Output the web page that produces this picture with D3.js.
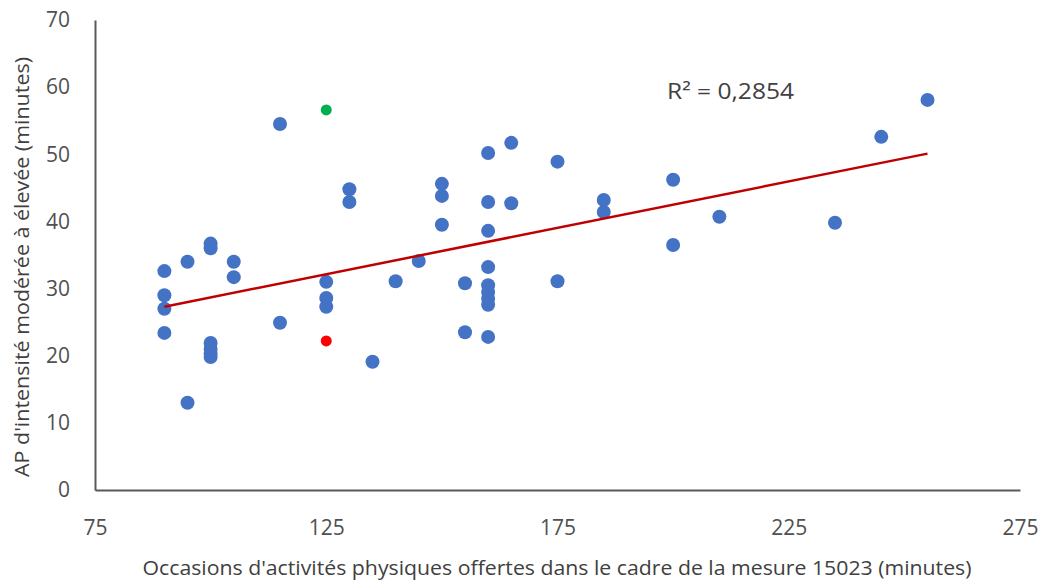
<!DOCTYPE html>
<html>
<head>
<meta charset="utf-8">
<script src="https://cdn.jsdelivr.net/npm/d3@7"></script>
<style>
  body { margin: 0; background: #fff; }
  text { font-family: "Open Sans", "Noto Sans", sans-serif; }
</style>
</head>
<body>
<script>
// data
var minutesOffered = [
  90, 90, 90, 90,
  95, 95,
  100, 100, 100, 100, 100, 100,
  105, 105,
  115, 115,
  125, 125, 125,
  130, 130,
  135, 140, 145,
  150, 150, 150,
  155, 155,
  160, 160, 160, 160, 160, 160, 160, 160, 160,
  165, 165,
  175, 175,
  185, 185,
  200, 200,
  210, 235, 245, 255
];
var minutesMVPA = [
  32.6, 29.0, 27.0, 23.4,
  34.0, 13.0,
  36.7, 36.0, 21.9, 21.0, 20.3, 19.8,
  34.0, 31.7,
  54.5, 24.9,
  31.0, 28.6, 27.3,
  44.8, 42.9,
  19.1, 31.1, 34.1,
  45.6, 43.8, 39.5,
  30.8, 23.5,
  50.2, 42.9, 38.6, 33.2, 30.5, 29.5, 28.5, 27.6, 22.8,
  51.7, 42.7,
  48.9, 31.1,
  43.2, 41.4,
  46.2, 36.5,
  40.7, 39.8, 52.6, 58.1
];
// the two highlighted points
var specialX = [125, 125];
var specialY = [56.6, 22.2];
var specialColors = ["#00b050", "#ff0000"];

// linear trend line ends
var trendX = [90, 255];
var trendY = [27.3, 50.1];
var r2Label = "R² = 0,2854";

var xTicks = [75, 125, 175, 225, 275];
var yTicks = [0, 10, 20, 30, 40, 50, 60, 70];

var svgWidth = 1044;
var svgHeight = 580;

var margin = { top: 20, right: 24, bottom: 90, left: 95 };
var width = svgWidth - margin.left - margin.right;
var height = svgHeight - margin.top - margin.bottom;

var svg = d3.select("body")
  .append("svg")
  .attr("width", svgWidth)
  .attr("height", svgHeight);

var chart = svg.append("g")
  .attr("transform", `translate(${margin.left}, ${margin.top})`);

var x = d3.scaleLinear().domain([75, 275]).range([0, width]);
var y = d3.scaleLinear().domain([0, 70]).range([height, 0]);

// axes, no tick marks
var xAxis = chart.append("g")
  .attr("transform", `translate(0,${height})`)
  .call(d3.axisBottom(x).tickValues(xTicks).tickSize(0).tickPadding(38));
var yAxis = chart.append("g")
  .call(d3.axisLeft(y).tickValues(yTicks).tickSize(0).tickPadding(25));

[xAxis, yAxis].forEach(function(a) {
  a.select(".domain").attr("stroke", "#595959").attr("stroke-width", 2);
  a.selectAll("text")
    .attr("fill", "#505050")
    .style("font-size", "21px")
    .style("font-family", "'Open Sans', sans-serif");
});
xAxis.selectAll("text").attr("dy", "0.32em").attr("y", 38);

// dots
chart.append("g").selectAll("circle")
  .data(minutesMVPA)
  .enter()
  .append("circle")
  .attr("cx", (d, i) => x(minutesOffered[i]))
  .attr("cy", d => y(d))
  .attr("r", 7)
  .attr("fill", "#4472c4");

chart.append("g").selectAll("circle")
  .data(specialY)
  .enter()
  .append("circle")
  .attr("cx", (d, i) => x(specialX[i]))
  .attr("cy", d => y(d))
  .attr("r", 5.5)
  .attr("fill", (d, i) => specialColors[i]);

// trend line
chart.append("line")
  .attr("x1", x(trendX[0]))
  .attr("y1", y(trendY[0]))
  .attr("x2", x(trendX[1]))
  .attr("y2", y(trendY[1]))
  .attr("stroke", "#c00000")
  .attr("stroke-width", 2.5);

svg.append("text")
  .attr("x", 667)
  .attr("y", 99)
  .attr("fill", "#404040")
  .style("font-size", "22px")
  .attr("textLength", 127)
  .attr("lengthAdjust", "spacingAndGlyphs")
  .text(r2Label);

// axis titles
svg.append("text")
  .attr("x", 557)
  .attr("y", 575)
  .attr("text-anchor", "middle")
  .attr("fill", "#404040")
  .style("font-size", "20px")
  .attr("textLength", 829)
  .attr("lengthAdjust", "spacingAndGlyphs")
  .text("Occasions d'activités physiques offertes dans le cadre de la mesure 15023 (minutes)");

svg.append("text")
  .attr("transform", "translate(29,267) rotate(-90)")
  .attr("text-anchor", "middle")
  .attr("fill", "#404040")
  .style("font-size", "20px")
  .attr("textLength", 420)
  .attr("lengthAdjust", "spacingAndGlyphs")
  .text("AP d'intensité modérée à élevée (minutes)");
</script>
</body>
</html>
